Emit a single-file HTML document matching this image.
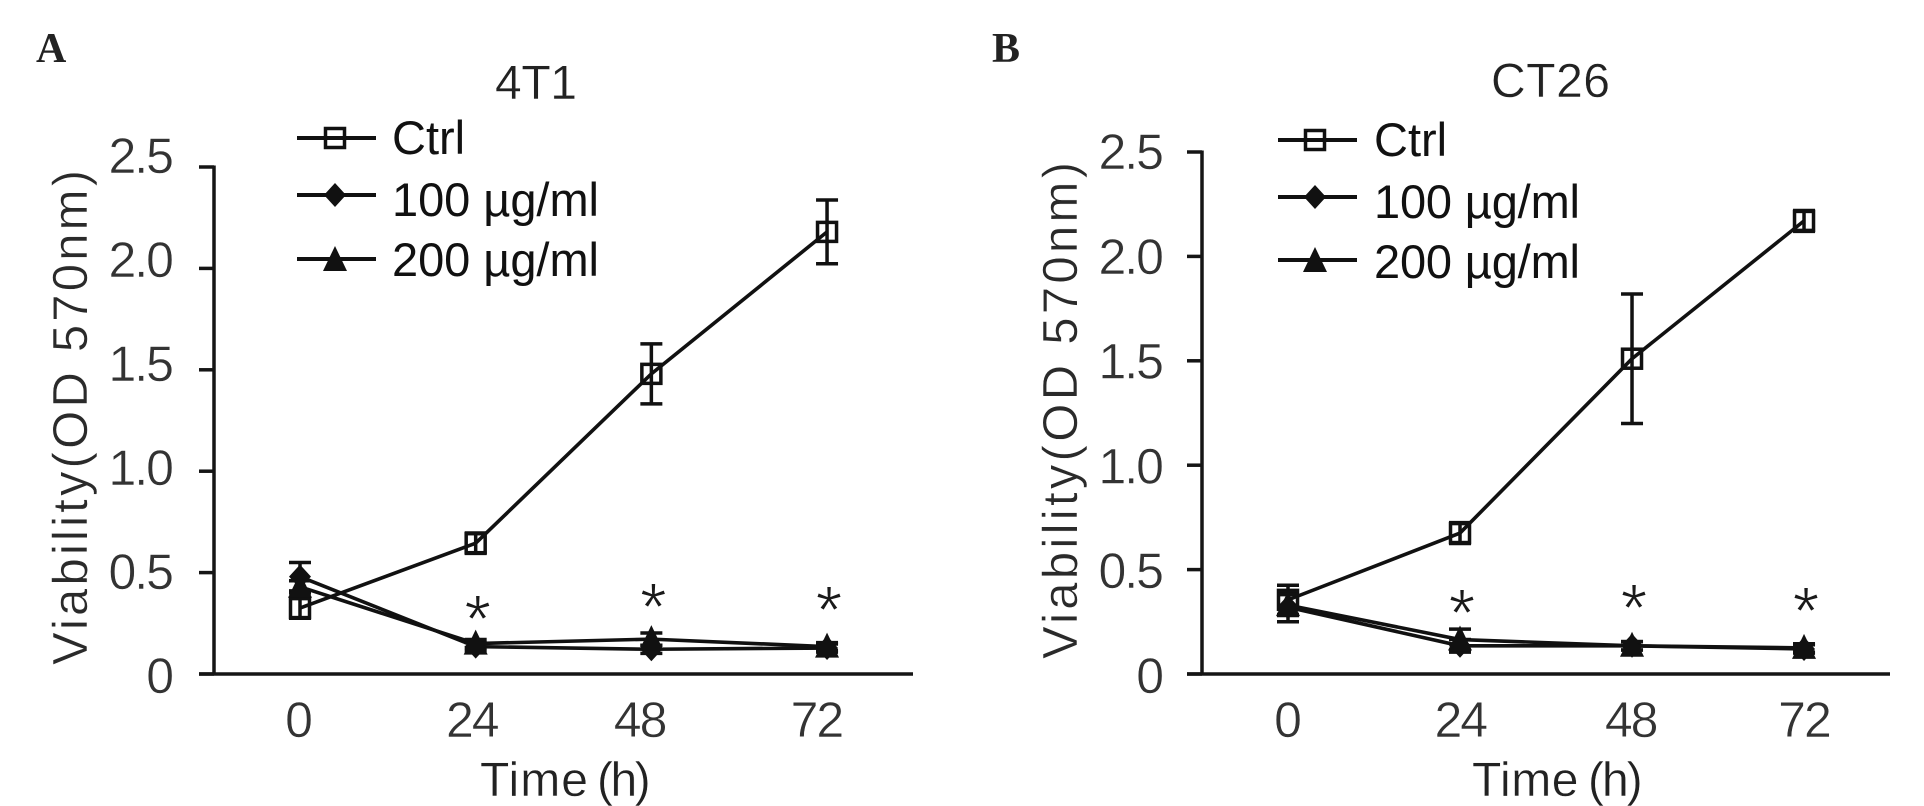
<!DOCTYPE html>
<html lang="en">
<head>
<meta charset="utf-8">
<title>Cell viability in 4T1 and CT26</title>
<style>
html,body{margin:0;padding:0;background:#fff;width:1924px;height:806px;overflow:hidden}
svg{display:block;font-family:"Liberation Sans",Arial,sans-serif}
.tick{font-size:50px;fill:#333;letter-spacing:-2px;stroke:#fff;stroke-width:.5px}
.ttl{font-size:49px;fill:#2a2a2a;stroke:#fff;stroke-width:.5px}
.ttl2{font-size:48px;fill:#222;stroke:#fff;stroke-width:.4px}
.leg{font-size:47px;fill:#111}
.pl{font-family:"Liberation Serif",serif;font-weight:bold;font-size:42px;fill:#222}
.star{font-size:68px;fill:#1a1a1a;stroke:#fff;stroke-width:1px}
</style>
</head>
<body>
<svg id="fig" xmlns="http://www.w3.org/2000/svg" width="1924" height="806" viewBox="0 0 1924 806">
  <rect width="1924" height="806" fill="#fff"/>
  <text class="pl" x="36" y="62">A</text>
  <text class="pl" x="992" y="62">B</text>

  <g id="panelA">
    <text class="ttl2" x="495" y="99" textLength="82" lengthAdjust="spacing">4T1</text>
    <text class="ttl" transform="translate(87 665) rotate(-90)" textLength="495" lengthAdjust="spacing">Viability(OD 570nm)</text>
    <text class="ttl2" y="796"><tspan x="480" letter-spacing="1">Time</tspan> <tspan x="597" letter-spacing="-2.500">(h)</tspan></text>
    <g>
      <g>
        <line x1="297" x2="376" y1="138" y2="138" stroke="#111" stroke-width="4"/>
        <rect x="325.500" y="128.500" width="19" height="19" fill="none" stroke="#111" stroke-width="3.500"/>
        <text class="leg" x="392" y="154">Ctrl</text>
      </g>
      <g>
        <line x1="297" x2="376" y1="195" y2="195" stroke="#111" stroke-width="4"/>
        <path d="M335 183 L346 195 L335 207 L324 195 Z" fill="#111"/>
        <text class="leg" x="392" y="216" textLength="207" lengthAdjust="spacing">100 µg/ml</text>
      </g>
      <g>
        <line x1="297" x2="376" y1="259" y2="259" stroke="#111" stroke-width="4"/>
        <path d="M335 246 L347 271 L323 271 Z" fill="#111"/>
        <text class="leg" x="392" y="276" textLength="207" lengthAdjust="spacing">200 µg/ml</text>
      </g>
    </g>
  </g>

  <g id="panelB">
    <text class="ttl2" x="1491" y="97" textLength="119" lengthAdjust="spacing">CT26</text>
    <text class="ttl" transform="translate(1077 659) rotate(-90)" textLength="497" lengthAdjust="spacing">Viability(OD 570nm)</text>
    <text class="ttl2" y="796"><tspan x="1472" letter-spacing="0.500">Time</tspan> <tspan x="1588" letter-spacing="-2">(h)</tspan></text>
    <g>
      <g>
        <line x1="1278" x2="1357" y1="140" y2="140" stroke="#111" stroke-width="4"/>
        <rect x="1305.500" y="130.500" width="19" height="19" fill="none" stroke="#111" stroke-width="3.500"/>
        <text class="leg" x="1374" y="156">Ctrl</text>
      </g>
      <g>
        <line x1="1278" x2="1357" y1="197" y2="197" stroke="#111" stroke-width="4"/>
        <path d="M1315 185 L1326 197 L1315 209 L1304 197 Z" fill="#111"/>
        <text class="leg" x="1374" y="218" textLength="206" lengthAdjust="spacing">100 µg/ml</text>
      </g>
      <g>
        <line x1="1278" x2="1357" y1="260" y2="260" stroke="#111" stroke-width="4"/>
        <path d="M1315 247 L1327 272 L1303 272 Z" fill="#111"/>
        <text class="leg" x="1374" y="278" textLength="206" lengthAdjust="spacing">200 µg/ml</text>
      </g>
    </g>
  </g>
</svg>
<script>
const hours = [0, 24, 48, 72];
const xTickLabels = ['0', '24', '48', '72'];
const yTicks = [0, 0.5, 1, 1.5, 2, 2.5];
const yTickLabels = ['0', '0.5', '1.0', '1.5', '2.0', '2.5'];

const ctrlA = [0.325, 0.645, 1.48, 2.18];
const ctrlErrA = [0.05, 0.05, 0.148, 0.157];
const dose100A = [0.48, 0.135, 0.122, 0.128];
const dose100ErrA = [0.07, 0.02, 0.02, 0.02];
const dose200A = [0.43, 0.15, 0.172, 0.135];
const dose200ErrA = [0.03, 0.02, 0.03, 0.02];
const starsA = [0.32, 0.38, 0.365];

const ctrlB = [0.355, 0.675, 1.51, 2.17];
const ctrlErrB = [0.07, 0.05, 0.31, 0.05];
const dose100B = [0.32, 0.135, 0.135, 0.12];
const dose100ErrB = [0.07, 0.03, 0.02, 0.02];
const dose200B = [0.33, 0.165, 0.135, 0.125];
const dose200ErrB = [0.05, 0.05, 0.02, 0.02];
const starsB = [0.34, 0.365, 0.35];

const SVGNS = 'http://www.w3.org/2000/svg';
function mk(parent, tag, attrs, text) {
  const el = document.createElementNS(SVGNS, tag);
  for (const k in attrs) el.setAttribute(k, attrs[k]);
  if (text !== undefined) el.textContent = text;
  parent.appendChild(el);
  return el;
}

function drawPanel(cfg, ctrl, ctrlErr, d100, d100Err, d200, d200Err, stars) {
  const root = document.getElementById(cfg.id);
  const sx = h => cfg.x0 + h * cfg.xStep;
  const sy = v => cfg.y0 - v * cfg.yUnit;
  const lx = h => cfg.lx0 + h * cfg.lxStep;
  const ly = v => cfg.ly0 - v * cfg.lyUnit;

  const axes = mk(root, 'g', {stroke: '#151515', 'stroke-width': 3.5, fill: 'none'});
  
  
  const yAxis = mk(axes, 'line', {x1: cfg.axisX, x2: cfg.axisX, y1: sy(2.5) - 1.5, y2: sy(0)});
  
  
  const xAxis = mk(axes, 'line', {x1: cfg.axisX - 15, x2: cfg.axisEnd, y1: sy(0), y2: sy(0)});
  
  

  yTicks.forEach((v, i) => {
    const t = mk(axes, 'line', {x1: cfg.axisX - 15, x2: cfg.axisX, y1: sy(v), y2: sy(v)});
    
    
    const l = mk(root, 'text', {class: 'tick', x: cfg.yLabelX, y: ly(v), 'text-anchor': 'end'}, yTickLabels[i]);
    
    
  });

  hours.forEach((h, i) => {
    const l = mk(root, 'text', {class: 'tick', x: lx(h) + cfg.xNudge[i], y: 737, 'text-anchor': 'middle'}, xTickLabels[i]);
    
    
  });

  const series = [
    {name: 'ctrl', vals: ctrl, errs: ctrlErr, shape: 'square'},
    {name: '100', vals: d100, errs: d100Err, shape: 'diamond'},
    {name: '200', vals: d200, errs: d200Err, shape: 'triangle'}
  ];
  series.forEach(s => {
    const g = mk(root, 'g', {stroke: '#111', fill: 'none'});
    
    

    const line = mk(g, 'polyline', {points: hours.map((h, i) => sx(h) + ',' + sy(s.vals[i])).join(' '), 'stroke-width': 3.6});
    
    

    hours.forEach((h, i) => {
      const x = sx(h), y = sy(s.vals[i]);
      const hi = sy(s.vals[i] + s.errs[i]), lo = sy(s.vals[i] - s.errs[i]);
      const eb = mk(g, 'path', {d: 'M' + (x - 11) + ' ' + hi + 'H' + (x + 11) + 'M' + x + ' ' + hi + 'V' + lo + 'M' + (x - 11) + ' ' + lo + 'H' + (x + 11), 'stroke-width': 3.5});
      
      

      let m;
      if (s.shape === 'square') {
        m = mk(g, 'rect', {x: x - 9.5, y: y - 9.5, width: 19, height: 19, 'stroke-width': 3.5});
      } else if (s.shape === 'diamond') {
        m = mk(g, 'path', {d: 'M' + x + ' ' + (y - 12) + 'L' + (x + 11) + ' ' + y + 'L' + x + ' ' + (y + 12) + 'L' + (x - 11) + ' ' + y + 'Z', fill: '#111', stroke: 'none'});
      } else {
        m = mk(g, 'path', {d: 'M' + x + ' ' + (y - 14) + 'L' + (x + 12) + ' ' + (y + 11) + 'L' + (x - 12) + ' ' + (y + 11) + 'Z', fill: '#111', stroke: 'none'});
      }
      
      
    });
  });

  stars.forEach((v, i) => {
    const st = mk(root, 'text', {class: 'star', x: sx(hours[i + 1]) + cfg.starNudge, y: sy(v) + 33, 'text-anchor': 'middle'}, '*');
    
    
  });
}

drawPanel({id: 'panelA', key: 'a', x0: 300, xStep: 7.32, y0: 674, yUnit: 202.8, lx0: 298, lxStep: 7.2,
  ly0: 693, lyUnit: 208, axisX: 214, axisEnd: 913, yLabelX: 172, xNudge: [0, 1, -4, 0], starNudge: 2},
  ctrlA, ctrlErrA, dose100A, dose100ErrA, dose200A, dose200ErrA, starsA);

drawPanel({id: 'panelB', key: 'b', x0: 1288, xStep: 7.167, y0: 674, yUnit: 208.8, lx0: 1287, lxStep: 7.18,
  ly0: 693, lyUnit: 209.6, axisX: 1202, axisEnd: 1890, yLabelX: 1162, xNudge: [0, 1, -1, 0], starNudge: 2},
  ctrlB, ctrlErrB, dose100B, dose100ErrB, dose200B, dose200ErrB, starsB);
</script>
</body>
</html>
